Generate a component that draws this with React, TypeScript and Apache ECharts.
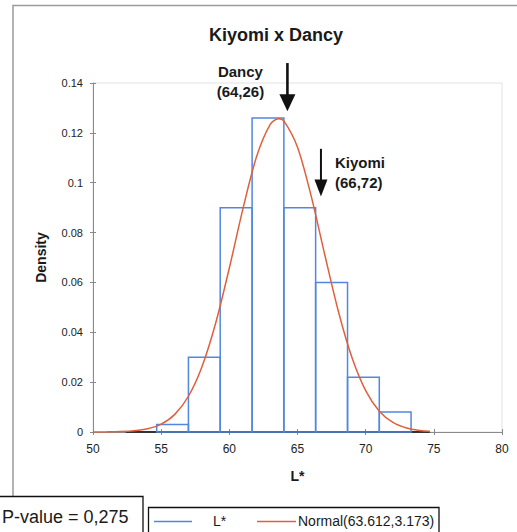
import React, { useEffect, useRef } from "react";
import * as echarts from "echarts";

// Histogram of L* (density per bin)
const binLower = [54.67, 57.0, 59.33, 61.67, 64.0, 66.33, 68.67, 71.0];
const binUpper = [57.0, 59.33, 61.67, 64.0, 66.33, 68.67, 71.0, 73.33];
const binDensity = [0.003, 0.03, 0.09, 0.126, 0.09, 0.06, 0.022, 0.008];

// Fitted normal density Normal(63.612, 3.173)
const curveX = [50, 51, 52, 53, 54, 55, 56, 57, 58, 59, 60, 61, 62, 63, 63.6, 64, 65, 66, 67, 68, 69, 70, 71, 72, 73, 74, 74.7];
const curveY = [
  0.0000127, 0.0000466, 0.000155, 0.000468, 0.00128, 0.00316, 0.00707, 0.01434, 0.02631, 0.04372,
  0.06577, 0.0896, 0.11051, 0.12341, 0.1257, 0.12479, 0.11426, 0.09472, 0.0711, 0.04833, 0.02974,
  0.01657, 0.00836, 0.00382, 0.00158, 0.00059, 0.00029,
];

// Span of the histogram's base line
const baselineSpan = [52.4, 74.7];

// Axis ticks
const xTicks = [50, 55, 60, 65, 70, 75, 80];
const yTicks = [0, 0.02, 0.04, 0.06, 0.08, 0.1, 0.12, 0.14];

// Marked samples
const markNames = ["Dancy", "Kiyomi"];
const markValues = [64.26, 66.72];
const markLabels = ["(64,26)", "(66,72)"];

const pValueText = "P-value = 0,275";
const histName = "L*";
const curveName = "Normal(63.612,3.173)";

const FONT = "'Liberation Sans', Arial, sans-serif";
const BLUE = "#5287e0";
const RED = "#e0603c";
const AXIS = "#8a8a8a";
const INK = "#1a1a1a";

export default function App() {
  const ref = useRef<HTMLDivElement>(null);

  useEffect(() => {
    if (!ref.current) return;
    const chart = echarts.init(ref.current, null, { renderer: "svg" });

    const option: any = {
      animation: false,
      backgroundColor: "#ffffff",
      title: {
        text: "Kiyomi x Dancy",
        left: 204,
        top: 21,
        textStyle: { fontFamily: FONT, fontSize: 18, fontWeight: "bold", color: INK },
      },
      grid: {
        left: 93,
        top: 83,
        right: 15,
        bottom: 100,
        show: true,
        borderColor: "#e2e2e2",
        borderWidth: 1,
      },
      xAxis: [
        {
          type: "value",
          min: xTicks[0],
          max: xTicks[xTicks.length - 1],
          interval: 5,
          name: "L*",
          nameLocation: "middle",
          nameGap: 37,
          nameTextStyle: { fontFamily: FONT, fontSize: 14, fontWeight: "bold", color: INK },
          axisLine: { lineStyle: { color: AXIS, width: 1 } },
          axisTick: { show: true, length: 3, lineStyle: { color: AXIS } },
          axisLabel: { fontFamily: FONT, fontSize: 12, color: "#222", margin: 11 },
          splitLine: { show: false },
        },
        {
          type: "value",
          min: xTicks[0],
          max: xTicks[xTicks.length - 1],
          interval: 5,
          position: "bottom",
          axisLine: { show: false },
          axisTick: { show: true, inside: true, length: 3, lineStyle: { color: AXIS } },
          axisLabel: { show: false },
          splitLine: { show: false },
        },
      ],
      yAxis: [
        {
          type: "value",
          min: yTicks[0],
          max: yTicks[yTicks.length - 1],
          interval: 0.02,
          name: "Density",
          nameLocation: "middle",
          nameGap: 45,
          nameRotate: 90,
          nameTextStyle: { fontFamily: FONT, fontSize: 14, fontWeight: "bold", color: INK },
          axisLine: { show: true, lineStyle: { color: AXIS, width: 1 } },
          axisTick: { show: true, length: 3, lineStyle: { color: AXIS } },
          axisLabel: {
            fontFamily: FONT,
            fontSize: 11,
            color: "#222",
            margin: 10,
            formatter: (v: number) => String(+v.toFixed(2)),
          },
          splitLine: { show: false },
        },
        {
          type: "value",
          min: yTicks[0],
          max: yTicks[yTicks.length - 1],
          interval: 0.02,
          position: "left",
          axisLine: { show: false },
          axisTick: { show: true, inside: true, length: 3, lineStyle: { color: AXIS } },
          axisLabel: { show: false },
          splitLine: { show: false },
        },
      ],
      series: [
        {
          name: "base",
          type: "line",
          data: baselineSpan.map((x) => [x, 0]),
          symbol: "none",
          lineStyle: { color: "#333", width: 2 },
          z: 1,
        },
        {
          name: histName,
          type: "custom",
          data: binLower.map((lo, i) => [lo, binUpper[i], binDensity[i]]),
          encode: { x: [0, 1], y: 2 },
          renderItem: (_params: any, api: any) => {
            const p0 = api.coord([api.value(0), api.value(2)]);
            const p1 = api.coord([api.value(1), 0]);
            return {
              type: "rect",
              shape: { x: p0[0], y: p0[1], width: p1[0] - p0[0], height: p1[1] - p0[1] },
              style: { fill: "none", stroke: BLUE, lineWidth: 1.5 },
            };
          },
          z: 2,
        },
        {
          name: curveName,
          type: "line",
          data: curveX.map((x, i) => [x, curveY[i]]),
          smooth: 0.3,
          symbol: "none",
          lineStyle: { color: RED, width: 1.5 },
          z: 3,
        },
      ],
    };

    chart.setOption(option);

    const toPx = (x: number, y: number) =>
      chart.convertToPixel({ xAxisIndex: 0, yAxisIndex: 0 }, [x, y]) as number[];

    // Arrow geometry (density units for tail and tip)
    const arrowTail = [0.148, 0.1136];
    const arrowTip = [0.1287, 0.0945];
    const headWidth = [16, 13];
    const shaftWidth = [2.6, 2];

    const graphics: any[] = [];

    // outer chart frame
    graphics.push({
      type: "polyline",
      shape: { points: [[13, 497], [13, 5.5], [517, 5.5]] },
      style: { stroke: "#9a9a9a", lineWidth: 1.5, fill: "none" },
      z: 0,
    });

    markValues.forEach((v, i) => {
      const tail = toPx(v, arrowTail[i]);
      const tip = toPx(v, arrowTip[i]);
      const headStart = tip[1] - 17;
      graphics.push({
        type: "line",
        shape: { x1: tail[0], y1: tail[1], x2: tip[0], y2: headStart + 1 },
        style: { stroke: "#111", lineWidth: shaftWidth[i] },
        z: 10,
      });
      graphics.push({
        type: "polygon",
        shape: {
          points: [
            [tip[0] - headWidth[i] / 2, headStart],
            [tip[0] + headWidth[i] / 2, headStart],
            [tip[0], tip[1]],
          ],
        },
        style: { fill: "#111" },
        z: 10,
      });
      if (i === 0) {
        const cx = tail[0] - 47;
        graphics.push({
          type: "text",
          x: cx,
          y: 71,
          style: { text: markNames[i], font: `bold 15px ${FONT}`, fill: INK, align: "center", verticalAlign: "middle" },
          z: 10,
        });
        graphics.push({
          type: "text",
          x: cx,
          y: 91,
          style: { text: markLabels[i], font: `bold 15px ${FONT}`, fill: INK, align: "center", verticalAlign: "middle" },
          z: 10,
        });
      } else {
        const lx = tail[0] + 14;
        graphics.push({
          type: "text",
          x: lx,
          y: 162,
          style: { text: markNames[i], font: `bold 15px ${FONT}`, fill: INK, align: "left", verticalAlign: "middle" },
          z: 10,
        });
        graphics.push({
          type: "text",
          x: lx,
          y: 182,
          style: { text: markLabels[i], font: `bold 15px ${FONT}`, fill: INK, align: "left", verticalAlign: "middle" },
          z: 10,
        });
      }
    });

    // P-value box
    graphics.push({
      type: "rect",
      shape: { x: -1, y: 496.5, width: 144, height: 45 },
      style: { fill: "#ffffff", stroke: "#111", lineWidth: 1.3 },
      z: 20,
    });
    graphics.push({
      type: "text",
      x: 2,
      y: 517,
      style: { text: pValueText, font: `18px ${FONT}`, fill: INK, align: "left", verticalAlign: "middle" },
      z: 21,
    });

    // legend box
    graphics.push({
      type: "rect",
      shape: { x: 148.5, y: 507.5, width: 290.5, height: 35 },
      style: { fill: "#ffffff", stroke: "#111", lineWidth: 1.3 },
      z: 20,
    });
    graphics.push({
      type: "line",
      shape: { x1: 154, y1: 521.5, x2: 192, y2: 521.5 },
      style: { stroke: BLUE, lineWidth: 1.5 },
      z: 21,
    });
    graphics.push({
      type: "text",
      x: 213,
      y: 521,
      style: { text: histName, font: `14px ${FONT}`, fill: INK, align: "left", verticalAlign: "middle" },
      z: 21,
    });
    graphics.push({
      type: "line",
      shape: { x1: 257, y1: 521.5, x2: 296, y2: 521.5 },
      style: { stroke: RED, lineWidth: 1.5 },
      z: 21,
    });
    graphics.push({
      type: "text",
      x: 298,
      y: 521,
      style: { text: curveName, font: `14px ${FONT}`, fill: INK, align: "left", verticalAlign: "middle" },
      z: 21,
    });

    chart.setOption({ graphic: graphics });

    return () => {
      chart.dispose();
    };
  }, []);

  return (
    <div
      ref={ref}
      style={{ position: "fixed", left: 0, top: 0, width: 517, height: 532, background: "#fff" }}
    />
  );
}
